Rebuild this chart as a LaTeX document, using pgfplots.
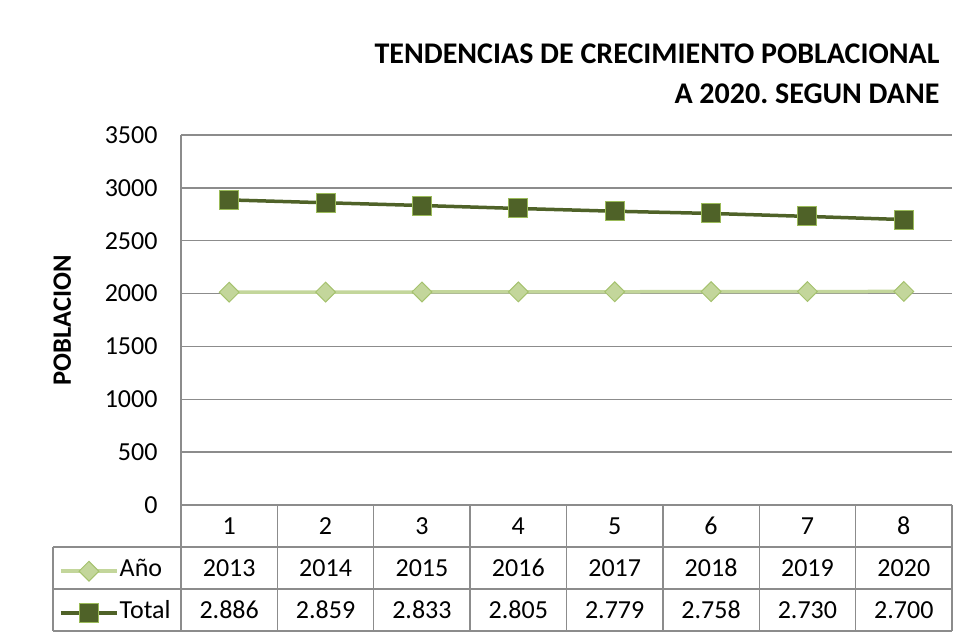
\documentclass[border=0pt]{standalone}
\usepackage{pgfplots}
\pgfplotsset{compat=1.18}
\usepackage{fontspec}
\setmainfont{Carlito}
\definecolor{lightg}{HTML}{C3D69B}
\definecolor{edgeg}{HTML}{A5C26E}
\definecolor{darkg}{HTML}{4F6228}
\definecolor{sqedge}{HTML}{9BBB59}
\definecolor{gridg}{HTML}{8C8C8C}
\newcommand{\fs}{\fontsize{26}{31}\selectfont}

\begin{document}
\begin{tikzpicture}[x=1pt,y=1pt]
\useasboundingbox (0,0) rectangle (971,635);
\begin{axis}[
  at={(181pt,130pt)}, anchor=south west,
  scale only axis, width=771pt, height=370pt,
  xmin=0.5, xmax=8.5, ymin=0, ymax=3500,
  ytick={0,500,...,3500},
  xtick={1,...,8},
  xticklabels={1,2,3,4,5,6,7,8},
  major tick length=0pt,
  axis line style={draw=none},
  ymajorgrids, grid style={gridg, line width=1.3pt},
  ticklabel style={font=\fs},
  /pgf/number format/assume math mode=true,
  scaled y ticks=false,
  yticklabel style={/pgf/number format/1000 sep={}, xshift=-20pt},
  xticklabel style={anchor=center, yshift=-21pt},
  ylabel={\bfseries POBLACION},
  every axis y label/.style={at={(axis description cs:-0.154,0.5)}, rotate=90, anchor=center, font=\fontsize{26.5}{31}\selectfont},
  clip=false,
  legend style={at={(axis description cs:-0.1582,-0.1135)}, anchor=north west,
    draw=none, fill=none, inner sep=0pt, row sep=0pt, font=\fs,
    nodes={inner sep=0pt, text height=29pt, text depth=13pt},
    /tikz/every odd column/.append style={column sep=1pt}},
  legend cell align=left,
  legend image code/.code={\draw[mark repeat=2, mark phase=2, #1] plot coordinates {(0pt,-3pt) (28pt,-3pt) (56pt,-3pt)};},
]
\addplot[lightg, line width=3.5pt, mark=square*, mark size=7pt,
  mark options={rotate=45, fill=lightg, draw=edgeg, line width=1pt}]
  coordinates {(1,2013)(2,2014)(3,2015)(4,2016)(5,2017)(6,2018)(7,2019)(8,2020)};
\addlegendentry{Año}
\addplot[darkg, line width=3.5pt, mark=square*, mark size=9.5pt,
  mark options={fill=darkg, draw=sqedge, line width=1pt}]
  coordinates {(1,2886)(2,2859)(3,2833)(4,2805)(5,2779)(6,2758)(7,2730)(8,2700)};
\addlegendentry{Total}
\end{axis}
% data table grid
\begin{scope}[gridg, line width=1.3pt]
\draw (181,500) -- (181,4);
\foreach \k in {1,...,8} \draw (181+96.375*\k,130) -- (181+96.375*\k,4);
\draw (53,88) -- (952,88);
\draw (53,46) -- (952,46);
\draw (53,4) -- (952,4);
\draw (53,88) -- (53,4);
\end{scope}
\foreach \i/\a/\t in {1/2013/2.886, 2/2014/2.859, 3/2015/2.833, 4/2016/2.805,
  5/2017/2.779, 6/2018/2.758, 7/2019/2.730, 8/2020/2.700} {
  \node[font=\fs] at (181+96.375*\i-48.1875,67) {\a};
  \node[font=\fs] at (181+96.375*\i-48.1875,25) {\t};
}
\node[anchor=base east, font=\bfseries\fontsize{30}{36}\selectfont] at (943,571) {TENDENCIAS DE CRECIMIENTO POBLACIONAL};
\node[anchor=base east, font=\bfseries\fontsize{30}{36}\selectfont] at (943,531) {A 2020.\ SEGUN DANE};
\end{tikzpicture}
\end{document}
